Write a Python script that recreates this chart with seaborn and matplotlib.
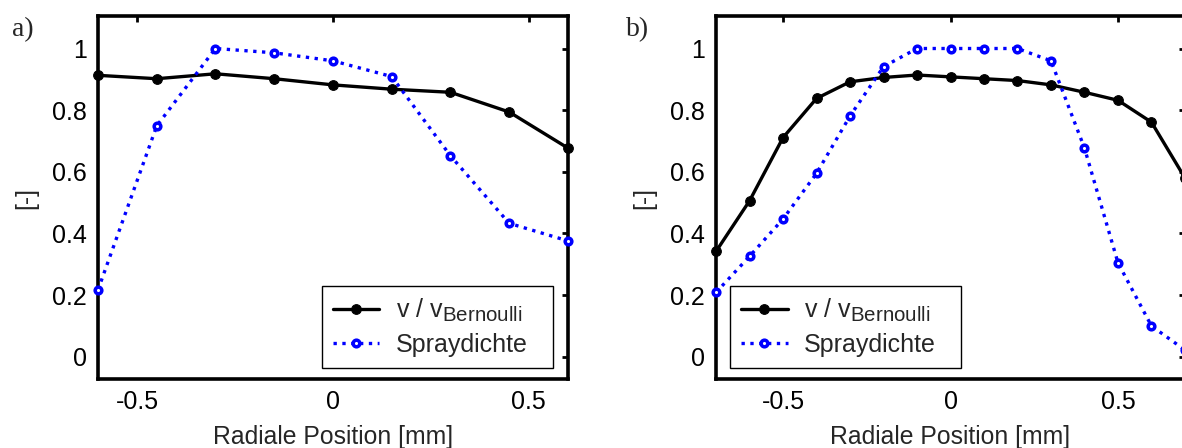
import numpy as np
import pandas as pd
import matplotlib
matplotlib.use("Agg")
import matplotlib.pyplot as plt
import seaborn as sns

try:
    import matplotlib._mathtext as _mt
    _mt.SHRINK_FACTOR = 0.82
except Exception:
    pass

# ---- data ----
x_a = [-0.6, -0.45, -0.3, -0.15, 0.0, 0.15, 0.3, 0.45, 0.6]
v_a = [0.913, 0.902, 0.918, 0.902, 0.882, 0.868, 0.858, 0.794, 0.677]
spray_a = [0.217, 0.749, 1.0, 0.986, 0.960, 0.909, 0.652, 0.433, 0.376]

x_b = [-0.7, -0.6, -0.5, -0.4, -0.3, -0.2, -0.1, 0.0, 0.1, 0.2, 0.3, 0.4, 0.5, 0.6, 0.7]
v_b = [0.342, 0.506, 0.711, 0.838, 0.892, 0.906, 0.914, 0.908, 0.902, 0.896,
       0.882, 0.858, 0.832, 0.761, 0.58]
spray_b = [0.209, 0.326, 0.447, 0.595, 0.781, 0.941, 1.0, 1.0, 1.0, 1.0,
           0.960, 0.677, 0.305, 0.10, 0.022]

series_labels = ["v / v$_{Bernoulli}$", "Spraydichte"]
panel_labels = ["a)", "b)"]
x_label = "Radiale Position [mm]"
y_label = "[-]"
x_ticks = [-0.5, 0.0, 0.5]
x_ticklabels = ["-0.5", "0", "0.5"]
y_ticks = [0, 0.2, 0.4, 0.6, 0.8, 1.0]
y_ticklabels = ["0", "0.2", "0.4", "0.6", "0.8", "1"]

sns.set_style("white")
plt.rcParams["font.family"] = ["Liberation Sans", "DejaVu Sans"]
plt.rcParams["mathtext.default"] = "regular"

fig = plt.figure(figsize=(11.82, 4.48), dpi=100)
ax_a = fig.add_axes([0.0829, 0.154, 0.3976, 0.810])
ax_b = fig.add_axes([0.6058, 0.154, 0.3967, 0.810])

FS_TICK = 18
FS_LAB = 17.8
FS_LEG = 18

def draw(ax, x, v, s, xlim, legend_box):
    dfv = pd.DataFrame({"x": x, "y": v})
    dfs = pd.DataFrame({"x": x, "y": s})
    sns.lineplot(data=dfv, x="x", y="y", ax=ax, color="black", linewidth=2.4,
                 marker="o", markersize=7, markerfacecolor="black",
                 markeredgecolor="black", sort=False, estimator=None,
                 label=series_labels[0], clip_on=False, zorder=3)
    sns.lineplot(data=dfs, x="x", y="y", ax=ax, color="#0000ff", linewidth=2.4,
                 linestyle=":", marker="o", markersize=4.8, markerfacecolor="white",
                 markeredgecolor="#0000ff", markeredgewidth=2.5, sort=False,
                 estimator=None, label=series_labels[1], clip_on=False, zorder=3)
    ax.set_xlim(*xlim)
    ax.set_ylim(-0.072, 1.105)
    ax.set_xticks(x_ticks)
    ax.set_xticklabels(x_ticklabels)
    ax.set_yticks(y_ticks)
    ax.set_yticklabels(y_ticklabels)
    ax.tick_params(direction="in", length=4, width=2, top=True, right=True,
                   labelsize=FS_TICK, pad=8, colors="black")
    for sp in ax.spines.values():
        sp.set_visible(True)
        sp.set_linewidth(2.6)
        sp.set_color("black")
    ax.set_xlabel(x_label, fontsize=FS_LAB, labelpad=8)
    ax.set_ylabel(y_label, fontsize=FS_LAB, labelpad=10)
    leg = ax.legend(loc="lower left", bbox_to_anchor=legend_box, mode="expand",
                    borderaxespad=0, fontsize=FS_LEG, frameon=True, fancybox=False,
                    edgecolor="black", framealpha=1, handlelength=1.85,
                    handletextpad=0.65, labelspacing=0.35, borderpad=0.45)
    leg.get_frame().set_linewidth(1.0)

draw(ax_a, x_a, v_a, spray_a, (-0.6, 0.6), (0.4766, 0.030, 0.4915, 0.234))
draw(ax_b, x_b, v_b, spray_b, (-0.7, 0.7), (0.030, 0.030, 0.4915, 0.234))

fig.text(0.010, 0.935, panel_labels[0], family="Liberation Serif", fontsize=20,
         ha="left", va="center")
fig.text(0.530, 0.935, panel_labels[1], family="Liberation Serif", fontsize=20,
         ha="left", va="center")

fig.savefig("out.png", dpi=100)
